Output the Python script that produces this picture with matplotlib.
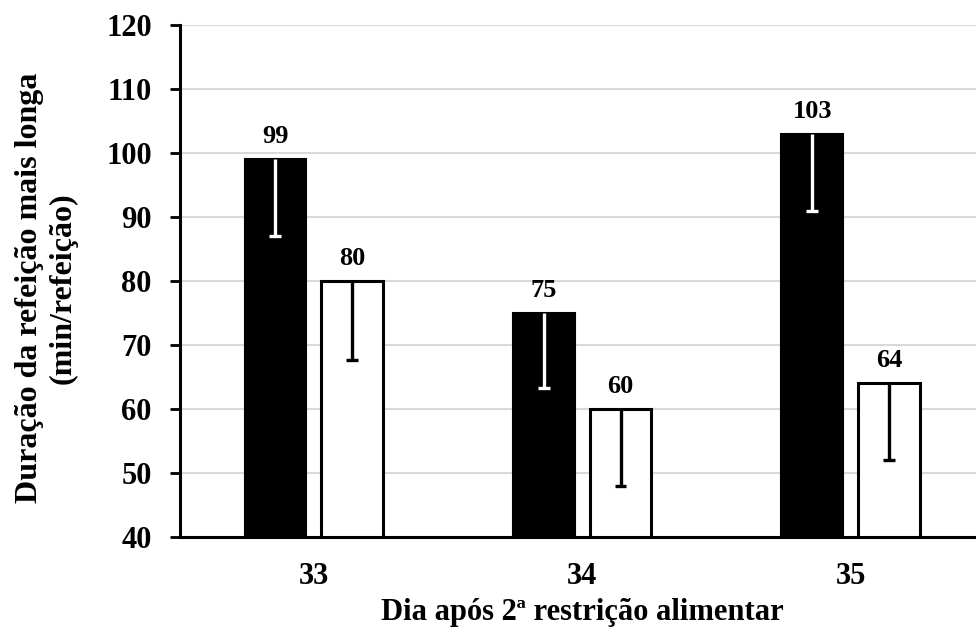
import matplotlib.pyplot as plt
import numpy as np

days = ['33', '34', '35']
black_vals = [99, 75, 103]
white_vals = [80, 60, 64]
black_err = [12, 11.7, 12]
white_err = [12.3, 12, 12]

plt.rcParams['font.family'] = 'Liberation Serif'
plt.rcParams['font.weight'] = 'bold'

fig = plt.figure(figsize=(9.76, 6.4), dpi=100)
ax = fig.add_axes([0.184, 0.161, 0.825, 0.8])

x = np.arange(len(days))
w = 0.229
off = 0.143
cw = 0.022

ax.bar(x - off, black_vals, w, color='black', edgecolor='black', linewidth=1.5, zorder=2)
ax.bar(x + off, white_vals, w, color='white', edgecolor='black', linewidth=2.2, zorder=2)

# only the lower half of the error bars is drawn
lo_b = np.array(black_vals) - np.array(black_err)
lo_w = np.array(white_vals) - np.array(white_err)
ax.vlines(x - off, lo_b, black_vals, colors='white', linewidth=2.4, zorder=3)
ax.hlines(lo_b, x - off - cw, x - off + cw, colors='white', linewidth=2.4, zorder=3)
ax.vlines(x + off, lo_w, white_vals, colors='black', linewidth=2.4, zorder=3)
ax.hlines(lo_w, x + off - cw, x + off + cw, colors='black', linewidth=2.4, zorder=3)

for xs, vals in [(x - off, black_vals), (x + off, white_vals)]:
    for xi, v in zip(xs, vals):
        ax.annotate(str(v), (xi, v), xytext=(0, 8), textcoords='offset points',
                    ha='center', va='bottom', fontsize=19, fontweight='bold')

ax.set_ylim(40, 120)
ax.set_xlim(-0.5, 2.5)
ax.set_yticks(range(40, 121, 10))
ax.set_xticks(x)
ax.set_xticklabels(days)
ax.tick_params(axis='y', labelsize=22, width=2, length=7, pad=13)
ax.tick_params(axis='x', labelsize=22, length=0, pad=18)
ax.grid(axis='y', color='#d9d9d9', linewidth=1.5, zorder=0)
ax.set_axisbelow(True)

for s in ['top', 'right']:
    ax.spines[s].set_visible(False)
ax.spines['left'].set_linewidth(2.2)
ax.spines['bottom'].set_linewidth(2.2)

fig.text(0.0476, 0.55, 'Duração da refeição mais longa\n(min/refeição)', fontsize=23,
         fontweight='bold', rotation=90, ha='center', va='center',
         multialignment='center', linespacing=1.2)
ax.set_xlabel('Dia após 2ª restrição alimentar', fontsize=22, fontweight='bold', labelpad=5)

fig.savefig('out.png', dpi=100)
